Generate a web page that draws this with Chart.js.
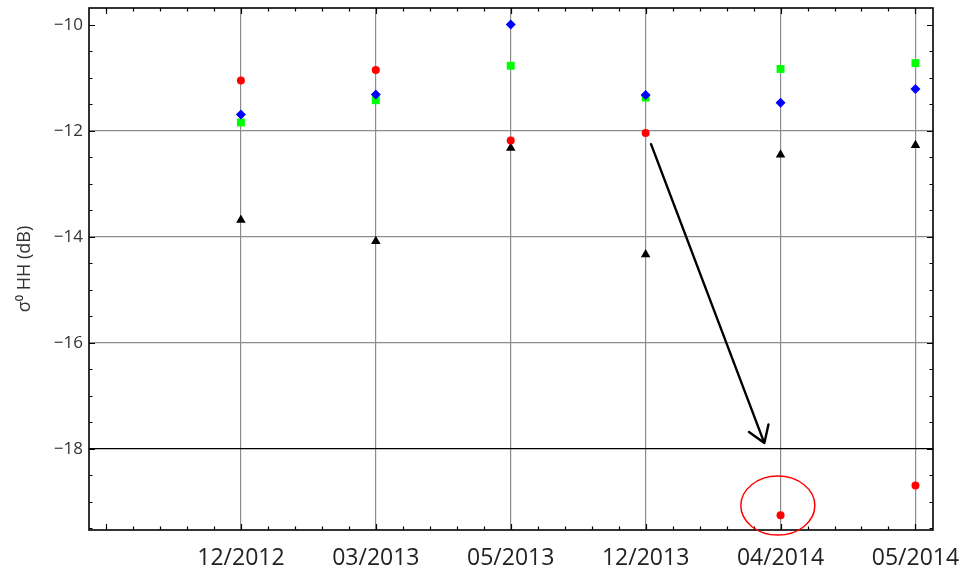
<!DOCTYPE html>
<html>
<head>
<meta charset="utf-8">
<script src="https://cdn.jsdelivr.net/npm/chart.js@4.4.1/dist/chart.umd.min.js"></script>
<style>
  html, body { margin: 0; padding: 0; background: #fff; }
  #wrap { width: 973px; height: 576px; }
</style>
</head>
<body>
<div id="wrap"><canvas id="myChart" width="973" height="576"></canvas></div>
<script>
// categories (acquisition dates) and sigma0 HH values in dB
const categories = ['12/2012', '03/2013', '05/2013', '12/2013', '04/2014', '05/2014'];
const redVals = [-11.05, -10.85, -12.18, -12.04, -19.25, -18.69];
const blueVals = [-11.69, -11.31, -9.99, -11.32, -11.47, -11.21];
const greenVals = [-11.84, -11.42, -10.77, -11.37, -10.83, -10.72];
const blackVals = [-13.68, -14.08, -12.32, -14.33, -12.45, -12.27];
const yTicks = [-18, -16, -14, -12, -10];

// annotation anchors (data coords)
const arrowFrom = { x: 3.04, y: -12.25 };
const arrowTo = { x: 3.88, y: -17.89 };
const ringCenter = { x: 3.98, y: -19.07 };

const toPoints = (vals) => vals.map((v, i) => ({ x: i, y: v }));

const frameTicks = {
  id: 'frameTicks',
  afterDraw(chart) {
    const { ctx, chartArea: a, scales: { x, y } } = chart;
    ctx.save();
    ctx.strokeStyle = '#000';
    ctx.lineWidth = 1.2;
    ctx.beginPath();
    // x ticks, bottom and top, every 0.2
    for (let k = Math.ceil(x.min * 5); k <= Math.floor(x.max * 5); k++) {
      const px = Math.round(x.getPixelForValue(k / 5)) + 0.5;
      const len = k % 5 === 0 ? 6 : 3.5;
      ctx.moveTo(px, a.bottom); ctx.lineTo(px, a.bottom - len);
      ctx.moveTo(px, a.top); ctx.lineTo(px, a.top + len);
    }
    // y ticks, left and right, every 0.5
    for (let k = Math.ceil(y.min * 2); k <= Math.floor(y.max * 2); k++) {
      const py = Math.round(y.getPixelForValue(k / 2)) + 0.5;
      const len = k % 4 === 0 ? 6 : 3.5;
      ctx.moveTo(a.left, py); ctx.lineTo(a.left + len, py);
      ctx.moveTo(a.right, py); ctx.lineTo(a.right - len, py);
    }
    ctx.stroke();
    ctx.lineWidth = 1.6;
    ctx.strokeRect(a.left, a.top, a.right - a.left, a.bottom - a.top);

    // arrow
    const x1 = x.getPixelForValue(arrowFrom.x), y1 = y.getPixelForValue(arrowFrom.y);
    const x2 = x.getPixelForValue(arrowTo.x), y2 = y.getPixelForValue(arrowTo.y);
    const ang = Math.atan2(y2 - y1, x2 - x1);
    ctx.lineWidth = 2.4;
    ctx.lineCap = 'round';
    ctx.beginPath();
    ctx.moveTo(x1, y1); ctx.lineTo(x2, y2);
    [-0.58, 0.58].forEach((d) => {
      ctx.moveTo(x2, y2);
      ctx.lineTo(x2 - 19 * Math.cos(ang + d), y2 - 19 * Math.sin(ang + d));
    });
    ctx.stroke();

    // red ring
    ctx.strokeStyle = '#ff0000';
    ctx.lineWidth = 1.5;
    ctx.beginPath();
    ctx.ellipse(x.getPixelForValue(ringCenter.x), y.getPixelForValue(ringCenter.y), 37, 29.5, 0, 0, Math.PI * 2);
    ctx.stroke();
    ctx.restore();
  }
};

const ctx = document.getElementById('myChart').getContext('2d');
new Chart(ctx, {
  type: 'scatter',
  data: {
    datasets: [
      { label: 'blue', data: toPoints(blueVals), pointStyle: 'rectRot', radius: 5, backgroundColor: '#0000ff', borderColor: '#0000ff', borderWidth: 0 },
      { label: 'red', data: toPoints(redVals), pointStyle: 'circle', radius: 4, backgroundColor: '#ff0000', borderColor: '#ff0000', borderWidth: 0 },
      { label: 'green', data: toPoints(greenVals), pointStyle: 'rect', radius: 5.6, backgroundColor: '#00ff00', borderColor: '#00ff00', borderWidth: 0 },
      { label: 'black', data: toPoints(blackVals), pointStyle: 'triangle', radius: 5.5, backgroundColor: '#000', borderColor: '#000', borderWidth: 0 },
    ],
  },
  options: {
    responsive: false,
    animation: false,
    layout: { padding: { top: 8, right: 40, left: 0, bottom: 0 } },
    plugins: { legend: { display: false }, tooltip: { enabled: false } },
    scales: {
      x: {
        type: 'linear',
        min: -1.126,
        max: 5.13,
        afterBuildTicks: (s) => { s.ticks = categories.map((c, i) => ({ value: i })); },
        afterFit: (s) => { s.height = 46; s.paddingLeft = 0; s.paddingRight = 0; },
        ticks: {
          callback: (v) => categories[v],
          font: { family: 'Open Sans', size: 23 },
          color: '#222',
          padding: 15,
          maxRotation: 0,
        },
        grid: { color: '#8c8c8c', lineWidth: 1.2, drawTicks: false },
        border: { display: false },
      },
      y: {
        min: -19.53,
        max: -9.68,
        afterBuildTicks: (s) => { s.ticks = yTicks.map((v) => ({ value: v })); },
        afterFit: (s) => { s.width = 89; s.paddingTop = 0; s.paddingBottom = 0; },
        ticks: {
          callback: (v) => '\u2212' + Math.abs(v),
          font: { family: 'Open Sans', size: 17 },
          color: '#333',
          padding: 6,
        },
        grid: {
          color: (c) => (c.tick.value === -18 ? '#000' : c.tick.value === -10 ? 'rgba(0,0,0,0)' : '#8c8c8c'),
          lineWidth: 1.2,
          drawTicks: false,
        },
        border: { display: false },
        title: {
          display: true,
          text: '\u03c3\u2070 HH (dB)',
          font: { family: 'Open Sans', size: 18 },
          color: '#333',
          padding: { top: 14, bottom: 0 },
        },
      },
    },
  },
  plugins: [frameTicks],
});
</script>
</body>
</html>
